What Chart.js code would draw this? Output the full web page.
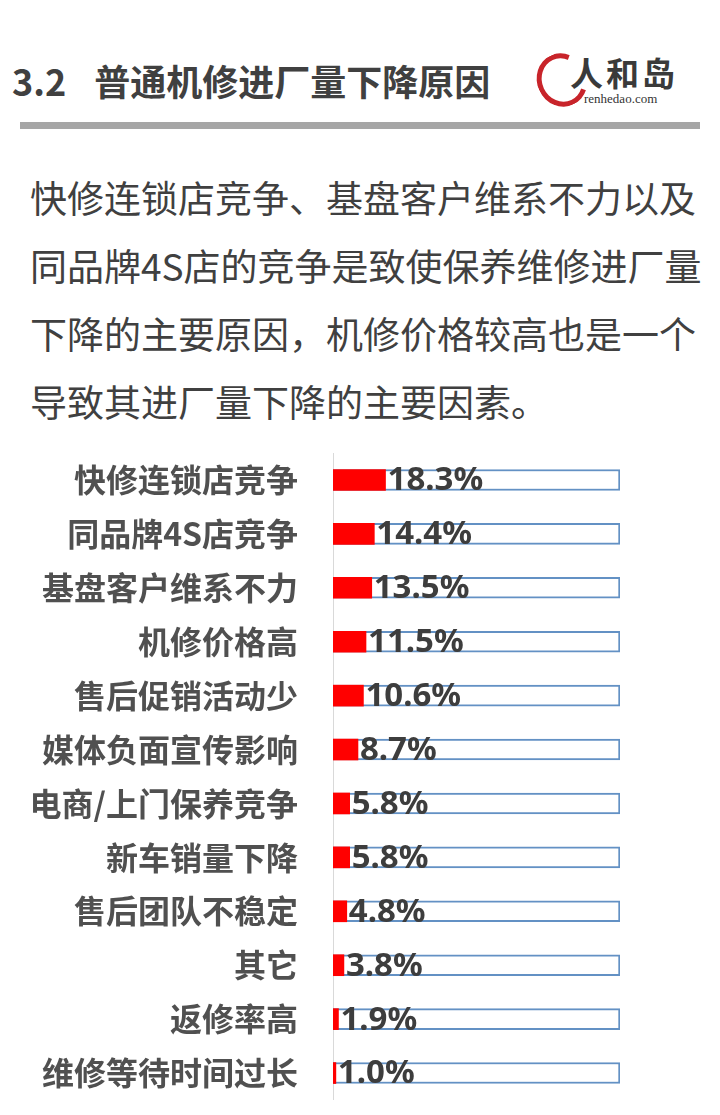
<!DOCTYPE html>
<html lang="zh">
<head>
    <meta charset="UTF-8">
    <title>普通机修进厂量下降原因</title>
    <script src="https://cdn.jsdelivr.net/npm/chart.js"></script>
    <style>
        body {
            margin: 0;
            width: 720px;
            height: 1115px;
            background: #fff;
            position: relative;
            overflow: hidden;
            font-family: "Noto Sans CJK SC", sans-serif;
        }
        .title {
            position: absolute;
            left: 12px;
            top: 56px;
            font-size: 36px;
            font-weight: bold;
            color: #404040;
            line-height: 48px;
            white-space: nowrap;
        }
        .title .num { margin-right: 28px; }
        .rule {
            position: absolute;
            left: 20px;
            top: 122px;
            width: 680px;
            height: 7px;
            background: #a6a6a6;
        }
        .logo-ring {
            position: absolute;
            left: 537px;
            top: 53px;
            width: 40px;
            height: 44px;
            border: 5px solid #c8242a;
            border-right-color: transparent;
            border-radius: 50%;
            transform: rotate(-25deg);
        }
        .logo-text {
            position: absolute;
            left: 570px;
            top: 50px;
            font-size: 33px;
            font-weight: bold;
            color: #3a3a3a;
            letter-spacing: 3px;
            line-height: 44px;
        }
        .logo-url {
            position: absolute;
            left: 584px;
            top: 91px;
            font-family: "Liberation Serif", serif;
            font-size: 13px;
            color: #333;
        }
        .para {
            position: absolute;
            left: 30px;
            top: 163px;
            font-size: 37px;
            line-height: 68px;
            color: #404040;
            white-space: nowrap;
        }
        #chartBox {
            position: absolute;
            left: 0;
            top: 453px;
            width: 720px;
            height: 647px;
        }
    </style>
</head>
<body>
    <div class="title"><span class="num">3.2</span>普通机修进厂量下降原因</div>
    <div class="logo-ring"></div>
    <div class="logo-text">人和岛</div>
    <div class="logo-url">renhedao.com</div>
    <div class="rule"></div>

    <div class="para">
        快修连锁店竞争、基盘客户维系不力以及<br>
        同品牌4S店的竞争是致使保养维修进厂量<br>
        下降的主要原因，机修价格较高也是一个<br>
        导致其进厂量下降的主要因素。
    </div>

    <div id="chartBox"><canvas id="reasonChart"></canvas></div>

    <script>
        const reasons = ['快修连锁店竞争', '同品牌4S店竞争', '基盘客户维系不力', '机修价格高', '售后促销活动少',
            '媒体负面宣传影响', '电商/上门保养竞争', '新车销量下降', '售后团队不稳定', '其它', '返修率高', '维修等待时间过长'];
        const shares = [18.3, 14.4, 13.5, 11.5, 10.6, 8.7, 5.8, 5.8, 4.8, 3.8, 1.9, 1.0];
        const fullBox = reasons.map(() => 100);

        // value labels drawn just right of each red bar
        const valueLabels = {
            id: 'valueLabels',
            afterDatasetsDraw(chart) {
                const ctx = chart.ctx;
                const meta = chart.getDatasetMeta(0);
                ctx.save();
                ctx.font = 'bold 33px "Noto Sans", sans-serif';
                ctx.fillStyle = '#3d3d3d';
                ctx.textBaseline = 'middle';
                ctx.textAlign = 'left';
                meta.data.forEach((bar, i) => {
                    ctx.fillText(shares[i].toFixed(1) + '%', bar.x + 2, bar.y + 1);
                });
                ctx.restore();
            }
        };

        new Chart(document.getElementById('reasonChart'), {
            type: 'bar',
            data: {
                labels: reasons,
                datasets: [{
                    data: shares,
                    backgroundColor: '#ff0000',
                    borderWidth: 0,
                    barThickness: 21,
                    grouped: false,
                    order: 0
                }, {
                    data: fullBox,
                    backgroundColor: '#ffffff',
                    borderColor: '#6391c4',
                    borderWidth: 2,
                    barThickness: 21,
                    grouped: false,
                    order: 1
                }]
            },
            options: {
                indexAxis: 'y',
                responsive: true,
                maintainAspectRatio: false,
                animation: false,
                layout: { padding: { left: 0, right: 100, top: 0, bottom: 0 } },
                plugins: {
                    legend: { display: false },
                    tooltip: { enabled: false }
                },
                scales: {
                    x: {
                        display: false,
                        min: 0,
                        max: 100
                    },
                    y: {
                        afterFit(scale) {
                            scale.width = 333;
                            scale.paddingTop = 0;
                            scale.paddingBottom = 0;
                        },
                        grid: { display: false, drawTicks: false },
                        border: { display: true, color: '#d9d9d9', width: 1 },
                        ticks: {
                            padding: 35,
                            color: '#505050',
                            font: { family: '"Noto Sans CJK SC", sans-serif', size: 32, weight: 'bold' }
                        }
                    }
                }
            },
            plugins: [valueLabels]
        });
    </script>
</body>
</html>
